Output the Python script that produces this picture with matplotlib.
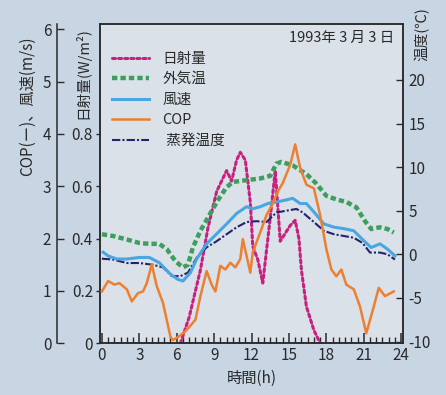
import matplotlib.pyplot as plt
from matplotlib.ticker import MultipleLocator

plt.rcParams['font.family'] = ['Noto Sans CJK JP', 'DejaVu Sans']

# hourly readings, 3 March 1993
sun_h = [6.3, 7.0, 7.9, 8.5, 9.2, 10.0, 10.4, 10.8, 11.1, 11.5, 11.9, 12.1, 12.5, 12.9,
         13.5, 13.9, 14.3, 14.7, 15.1, 15.5, 15.8, 16.0, 16.4, 17.0, 17.5]
sun = [0.0, 0.10, 0.28, 0.44, 0.58, 0.66, 0.62, 0.70, 0.73, 0.70, 0.54, 0.37, 0.32, 0.23,
       0.48, 0.66, 0.39, 0.42, 0.45, 0.47, 0.40, 0.28, 0.14, 0.05, 0.0]

out_h = [0.0, 0.9, 2.0, 3.0, 3.8, 4.6, 5.2, 5.9, 6.5, 6.9, 7.3, 7.9, 8.5, 9.3, 10.0, 10.5,
         11.6, 12.7, 13.5, 14.0, 14.4, 15.3, 16.4, 17.2, 18.0, 18.8, 19.6, 20.4, 21.1,
         21.6, 22.3, 22.9, 23.4]
out_t = [2.3, 2.1, 1.7, 1.3, 1.2, 1.2, 0.6, -0.8, -1.5, -1.2, 0.8, 2.7, 4.2, 6.2, 7.7, 8.3,
         8.5, 8.7, 9.0, 10.4, 10.6, 10.2, 9.2, 8.1, 6.7, 6.3, 6.0, 5.4, 3.8,
         2.9, 3.1, 2.9, 2.5]

wind_h = [0.1, 0.5, 1.2, 2.0, 3.0, 3.8, 4.6, 5.5, 6.1, 6.5, 7.1, 7.6, 8.4, 9.2, 10.0, 10.8,
          11.6, 12.1, 12.7, 13.3, 14.0, 14.8, 15.3, 15.9, 16.4, 17.0, 17.8, 18.6, 19.4,
          20.2, 21.0, 21.6, 22.3, 22.9, 23.5]
wind = [1.74, 1.67, 1.61, 1.61, 1.64, 1.64, 1.54, 1.32, 1.22, 1.19, 1.35, 1.61, 1.90, 2.09,
        2.28, 2.48, 2.61, 2.57, 2.61, 2.67, 2.70, 2.74, 2.77, 2.67, 2.67, 2.51, 2.28, 2.22,
        2.19, 2.15, 1.96, 1.83, 1.90, 1.80, 1.67]

cop_h = [0.0, 0.5, 1.0, 1.4, 2.0, 2.4, 2.9, 3.3, 3.6, 4.0, 4.4, 4.9, 5.5, 5.7, 6.3, 6.9,
         7.5, 7.9, 8.4, 8.8, 9.1, 9.5, 9.9, 10.3, 10.7, 11.1, 11.3, 11.6, 11.9, 12.1, 12.7,
         13.2, 13.7, 14.1, 14.5, 15.1, 15.5, 15.9, 16.4, 17.0, 17.5, 18.0, 18.4, 18.8, 19.2,
         19.6, 20.2, 20.7, 21.2, 21.8, 22.2, 22.7, 23.4]
cop = [0.99, 1.19, 1.12, 1.15, 1.03, 0.80, 0.96, 0.99, 1.15, 1.51, 1.09, 0.77, 0.12, 0.06,
       0.15, 0.28, 0.45, 0.90, 1.38, 1.12, 0.99, 1.48, 1.41, 1.54, 1.45, 1.61, 1.99, 1.67,
       1.35, 1.74, 2.12, 2.45, 2.67, 2.90, 3.06, 3.41, 3.80, 3.35, 3.03, 2.96, 2.45, 1.80,
       1.41, 1.28, 1.41, 1.12, 1.03, 0.70, 0.19, 0.70, 1.06, 0.90, 0.99]

evap_h = [0.0, 0.9, 2.0, 3.0, 4.1, 4.9, 5.6, 6.3, 6.9, 7.6, 8.4, 9.2, 10.0, 10.8, 11.6, 12.4,
          13.2, 14.0, 14.8, 15.6, 16.1, 17.0, 17.8, 18.6, 19.4, 20.2, 20.9, 21.5, 22.3,
          22.9, 23.5]
evap = [-0.5, -0.6, -1.0, -1.0, -1.2, -1.5, -2.5, -2.5, -2.1, -0.4, 0.8, 1.5, 2.3, 3.1, 3.7,
        3.8, 3.7, 4.8, 5.0, 5.2, 4.8, 3.7, 2.7, 2.3, 2.1, 1.9, 1.3, 0.2, 0.2, 0.0, -0.6]

panel = '#c8d5e2'
inner = '#dbe1e9'
ink = '#2a2a2a'

fig = plt.figure(figsize=(4.46, 3.95), dpi=100, facecolor=panel)
ax = fig.add_axes([0.224, 0.131, 0.680, 0.808], facecolor=inner)
ax_t = ax.twinx()
ax_c = ax.twinx()

l_sun, = ax.plot(sun_h, sun, color='#c8207e', lw=2.2, ls=(0, (1, 1)),
                 dash_capstyle='round', label='日射量')
l_out, = ax_t.plot(out_h, out_t, color='#3e9e5c', lw=3.2, ls=(0, (1.2, 0.7)),
                   label='外気温')
l_wind, = ax_c.plot(wind_h, wind, color='#4aa6e0', lw=2.2, label='風速')
l_cop, = ax_c.plot(cop_h, cop, color='#ec8030', lw=1.8, label='COP')
l_evap, = ax_t.plot(evap_h, evap, color='#24246a', lw=1.5, ls=(0, (4, 1, 1, 1)),
                    label=' 蒸発温度')

ax.set_xlim(-0.16, 24.16)
ax.set_ylim(0, 1.22)
ax_t.set_ylim(-10.2, 26.4)
ax_c.set_ylim(0, 6.1)

# bottom axis: labels every 3 h, small ticks every half hour
ax.set_xticks(range(0, 25, 3))
ax.set_xticklabels([str(v) for v in range(0, 25, 3)])
ax.xaxis.set_minor_locator(MultipleLocator(0.5))
ax.tick_params(axis='x', which='major', direction='in', length=7, width=1.1, colors=ink,
               labelsize=11, pad=3)
ax.tick_params(axis='x', which='minor', direction='in', length=4, width=1.0, colors=ink)

# solar radiation axis
ax.set_yticks([0, 0.2, 0.4, 0.6, 0.8])
ax.set_yticklabels(['0', '0.2', '0.4', '0.6', '0.8'])
ax.tick_params(axis='y', direction='out', length=3, width=1, colors=ink, labelsize=11,
               pad=2)

# temperature axis
ax_t.set_yticks(range(-10, 21, 5))
ax_t.set_yticklabels(['-10', '-5', '0', '5', '10', '15', '20'])
ax_t.tick_params(axis='y', direction='in', length=5, width=1, colors=ink, labelsize=11,
                 pad=4)

# COP / wind axis, detached on the left
ax_c.yaxis.tick_left()
ax_c.spines['left'].set_position(('axes', -0.142))
ax_c.spines['left'].set_visible(True)
for s in ['right', 'top', 'bottom']:
    ax_c.spines[s].set_visible(False)
ax_c.set_yticks(range(0, 7))
ax_c.set_yticklabels([str(v) for v in range(0, 7)])
ax_c.tick_params(axis='y', direction='in', length=5, width=1, colors=ink, labelsize=11,
                 pad=4)

for a in (ax, ax_t):
    for s in a.spines.values():
        s.set_color(ink)
        s.set_linewidth(1.1)
ax_c.spines['left'].set_color(ink)
ax_c.spines['left'].set_linewidth(1.1)

ax.text(0.972, 0.958, '1993年 3 月 3 日', transform=ax.transAxes, ha='right', va='center',
        fontsize=10.5, color=ink)

leg = ax_c.legend(handles=[l_sun, l_out, l_wind, l_cop, l_evap], loc='upper left',
                  bbox_to_anchor=(0.0, 0.95), frameon=False, fontsize=10.5,
                  handlelength=2.6, handletextpad=0.9, labelspacing=0.45,
                  borderaxespad=0.4)
for t in leg.get_texts():
    t.set_color(ink)

fig.text(27 / 446, 1 - 106 / 395, 'COP(ー)、風速(m/s)', rotation=90, ha='center',
         va='center', fontsize=11, color=ink)
fig.text(82 / 446, 1 - 73 / 395, '日射量(W/m²)', rotation=90, ha='center', va='center',
         fontsize=10.5, color=ink)
fig.text(422 / 446, 1 - 34 / 395, '温度(℃)', rotation=90, ha='center', va='center',
         fontsize=10.5, color=ink)
fig.text(252 / 446, 1 - 378 / 395, '時間(h)', ha='center', va='center', fontsize=11,
         color=ink)

fig.savefig('out.png', dpi=100, facecolor=panel)
